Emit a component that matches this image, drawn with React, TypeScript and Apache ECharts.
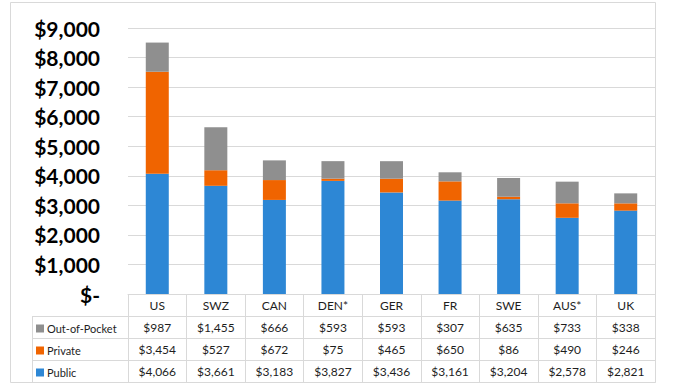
import React, { useEffect, useRef } from 'react';
import * as echarts from 'echarts';

const categories = ['US', 'SWZ', 'CAN', 'DEN*', 'GER', 'FR', 'SWE', 'AUS*', 'UK'];
const outOfPocket = [987, 1455, 666, 593, 593, 307, 635, 733, 338];
const privateSpend = [3454, 527, 672, 75, 465, 650, 86, 490, 246];
const publicSpend = [4066, 3661, 3183, 3827, 3436, 3161, 3204, 2578, 2821];
const seriesNames = ['Out-of-Pocket', 'Private', 'Public'];
const yMax = 9000;
const yInterval = 1000;

const fmt = (v: number) => (v === 0 ? '$-' : '$' + v.toLocaleString('en-US'));

const GRID_COLOR = '#d9d9d9';
const TEXT_COLOR = '#1e1e1e';
const FONT = 'Lato, "Liberation Sans", sans-serif';

export default function App() {
  const ref = useRef<HTMLDivElement>(null);

  useEffect(() => {
    if (!ref.current) return;
    const chart = echarts.init(ref.current, undefined, { renderer: 'svg' });
    const rowH = 22;
    const gridBottom = 97;
    const tableRows = [
      categories,
      outOfPocket.map(fmt),
      privateSpend.map(fmt),
      publicSpend.map(fmt),
    ];
    const xAxes: any[] = tableRows.map((row, i) => ({
      type: 'category',
      data: row,
      gridIndex: 0,
      position: 'bottom',
      offset: i * rowH,
      axisLine: { show: true, lineStyle: { color: GRID_COLOR, width: 1 } },
      axisTick: { show: true, interval: 0, length: rowH, lineStyle: { color: GRID_COLOR } },
      axisLabel: {
        interval: 0,
        margin: rowH / 2,
        verticalAlign: 'middle',
        fontSize: 12,
        color: TEXT_COLOR,
        fontFamily: FONT,
      },
      splitLine: { show: false },
    }));
    xAxes.push({
      type: 'category',
      data: categories,
      gridIndex: 0,
      position: 'bottom',
      offset: 4 * rowH,
      axisLine: { show: true, lineStyle: { color: GRID_COLOR } },
      axisTick: { show: false },
      axisLabel: { show: false },
    });

    const option: any = {
      animation: false,
      backgroundColor: '#ffffff',
      grid: { left: 128, right: 18, top: 28, bottom: gridBottom, containLabel: false },
      legend: {
        data: seriesNames,
        orient: 'vertical',
        left: 31,
        top: 318,
        padding: 5,
        itemWidth: 8,
        itemHeight: 8,
        itemGap: 11,
        icon: 'rect',
        selectedMode: false,
        textStyle: { fontSize: 11, color: TEXT_COLOR, fontFamily: FONT, padding: [0, 0, 0, -2] },
      },
      xAxis: xAxes,
      yAxis: {
        type: 'value',
        min: 0,
        max: yMax,
        interval: yInterval,
        axisLine: { show: false },
        axisTick: { show: false },
        splitLine: { lineStyle: { color: GRID_COLOR, width: 1 } },
        axisLabel: {
          formatter: (v: number) => fmt(v),
          fontSize: 21,
          fontWeight: 'bold',
          color: '#000',
          fontFamily: FONT,
          margin: 28,
          padding: [6, 0, 0, 0],
        },
      },
      series: [
        {
          name: 'Public',
          type: 'bar',
          stack: 'total',
          data: publicSpend,
          barWidth: 23,
          itemStyle: { color: '#2d87d5' },
        },
        {
          name: 'Private',
          type: 'bar',
          stack: 'total',
          data: privateSpend,
          barWidth: 23,
          itemStyle: { color: '#f06400' },
        },
        {
          name: 'Out-of-Pocket',
          type: 'bar',
          stack: 'total',
          data: outOfPocket,
          barWidth: 23,
          itemStyle: { color: '#8f8f8f' },
        },
      ],
      graphic: [
        {
          type: 'rect',
          shape: { x: 10.5, y: 2.5, width: 645, height: 380 },
          style: { fill: 'none', stroke: GRID_COLOR, lineWidth: 1 },
          silent: true,
        },
        ...[316, 338, 360, 382].map((y) => ({
          type: 'line',
          shape: { x1: 32, y1: y + 0.5, x2: 128, y2: y + 0.5 },
          style: { stroke: GRID_COLOR, lineWidth: 1 },
          silent: true,
        })),
        {
          type: 'line',
          shape: { x1: 32.5, y1: 316, x2: 32.5, y2: 383 },
          style: { stroke: GRID_COLOR, lineWidth: 1 },
          silent: true,
        },
      ],
    };
    chart.setOption(option);
    return () => chart.dispose();
  }, []);

  return (
    <div
      ref={ref}
      style={{ position: 'absolute', left: 0, top: 0, width: 673, height: 391 }}
    />
  );
}
